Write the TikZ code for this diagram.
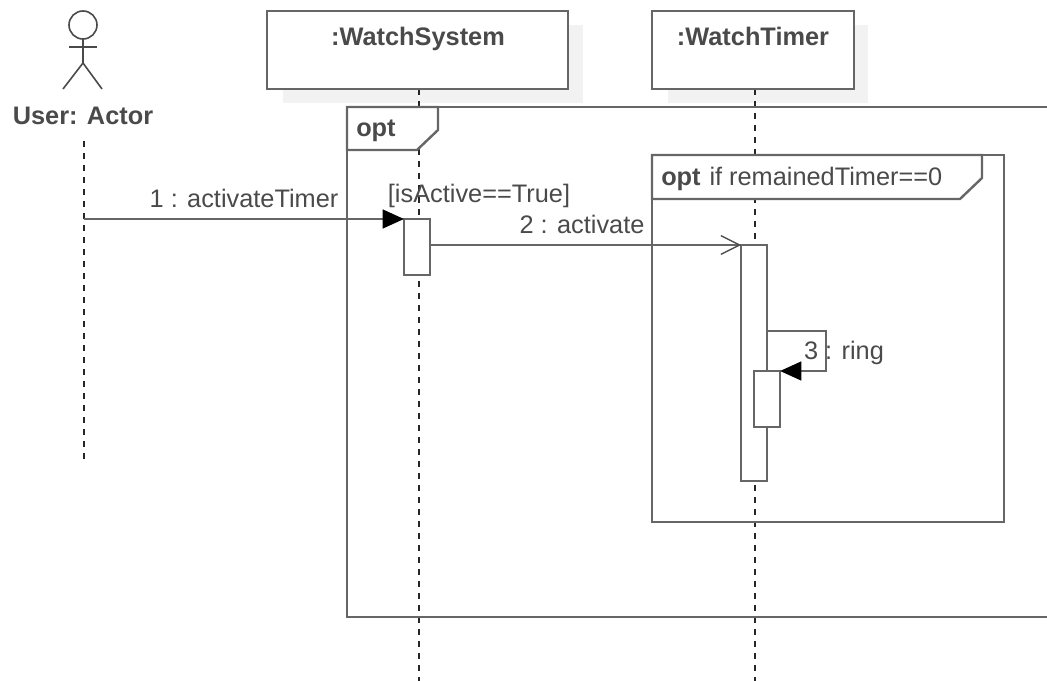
\documentclass[tikz,border=0pt]{standalone}
\usepackage{fontspec}
\setmainfont{Liberation Sans}
\usetikzlibrary{arrows.meta}
\definecolor{ln}{HTML}{666666}
\definecolor{tx}{HTML}{4A4A4A}
\definecolor{shd}{HTML}{F2F2F2}
\tikzset{
  x=0.75pt,y=-0.75pt,
  ln/.style={draw=ln,line width=1.8pt},
  fig/.style={draw=tx,line width=1.2pt},
  box/.style={ln,fill=white,rectangle,inner sep=0pt,outer sep=0pt},
  life/.style={draw=black!85,line width=1.2pt,dash pattern=on 4.8pt off 4.2pt},
  lab/.style={text=tx,font=\fontsize{19}{22}\selectfont,inner sep=0pt},
  blab/.style={text=tx,font=\fontsize{19}{22}\selectfont\bfseries,inner sep=0pt},
  filled/.style={-{Triangle[length=16pt,width=14pt,fill=black,color=black]}},
  openh/.style={-{Straight Barb[length=14pt,width=14pt,line width=1pt,color=tx]}},
}
\begin{document}
\begin{tikzpicture}
\useasboundingbox (0,0) rectangle (1047,681);
\clip (0,0) rectangle (1047,681);
% shadows
\fill[shd] (283,25) rectangle (583,103);
\fill[shd] (668,25) rectangle (868,103);
% lifelines
\coordinate (ua) at (84,141); \coordinate (ub) at (84,461);
\coordinate (sa) at (419,89); \coordinate (sb) at (419,681);
\coordinate (ta) at (755,89); \coordinate (tb) at (755,681);
\draw[life] (ua) -- (ub);
\draw[life] (sa) -- (sb);
\draw[life] (ta) -- (tb);
% lifeline heads
\node[box,minimum width=301*0.75pt,minimum height=78*0.75pt,anchor=north west] (sys) at (267,11) {};
\node[blab,anchor=base] (systxt) at (418,46) {:WatchSystem};
\node[box,minimum width=202*0.75pt,minimum height=78*0.75pt,anchor=north west] (tim) at (652,11) {};
\node[blab,anchor=base] (timtxt) at (753,46) {:WatchTimer};
% actor
\node[fig,circle,minimum size=28*0.75pt,inner sep=0pt,outer sep=0pt] (head) at (83,25) {};
\coordinate (hip) at (83,63);
\coordinate (armL) at (69,47); \coordinate (armR) at (97,47);
\coordinate (legL) at (63,89); \coordinate (legR) at (102,89);
\draw[fig] (head.south) -- (hip);
\draw[fig] (armL) -- (armR);
\draw[fig] (legL) -- (hip) -- (legR);
\node[blab,anchor=base] (user) at (83,125) {User: Actor};
% outer frame
\coordinate (of) at (347,107); \coordinate (ofr) at (1060,107); \coordinate (ofb) at (1060,617); \coordinate (ofl) at (347,617);
\draw[ln] (ofr) -- (of) -- (ofl) -- (ofb);
\draw[ln,fill=white] (of) -- (438,107) -- (438,130) -- (417,150) -- (347,150) -- cycle;
\node[blab,anchor=base west] (opt1) at (356,137) {opt};
% inner frame
\node[ln,rectangle,inner sep=0pt,outer sep=0pt,minimum width=352*0.75pt,minimum height=367*0.75pt,anchor=north west] (inner) at (652,155) {};
\draw[ln,fill=white] (652,155) -- (982,155) -- (982,178) -- (960,199) -- (652,199) -- cycle;
\node[anchor=base west,inner sep=0pt,text=tx,font=\fontsize{19}{22}\selectfont] (opt2) at (661,186) {\textbf{opt}\hspace{0.35em}if remainedTimer==0};
% activations
\node[box,minimum width=26*0.75pt,minimum height=56*0.75pt,anchor=north west] (a1) at (404,219) {};
\node[box,minimum width=26*0.75pt,minimum height=236*0.75pt,anchor=north west] (a2) at (741,245) {};
\node[box,minimum width=26*0.75pt,minimum height=56*0.75pt,anchor=north west] (a3) at (754,371) {};
% messages
\coordinate (m1s) at (84,219);
\draw[ln,filled] (m1s) -- (a1.north west);
\draw[ln,openh] (a1.east |- a2.north west) -- (a2.north west);
\node[lab,anchor=base] (m3) at (844,359) {3 : ring};
\coordinate (s1) at (767,331);
\coordinate (s2) at (826,331);
\coordinate (s3) at (826,371);
\draw[ln,filled] (s1) -- (s2) -- (s3) -- (a3.north east);
% labels
\node[lab,anchor=base] (m1) at (244,208) {1 : activateTimer};
\node[lab,anchor=base] (guard) at (479,203) {[isActive==True]};
\node[lab,anchor=base] (m2) at (582,234) {2 : activate};
\end{tikzpicture}
\end{document}
